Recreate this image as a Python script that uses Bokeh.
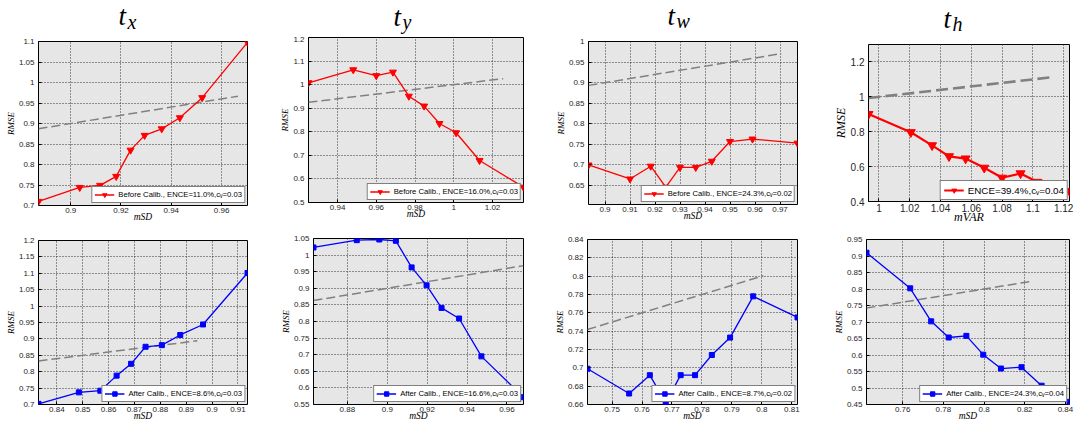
import math
from bokeh.plotting import figure
from bokeh.models import Range1d, CustomJSTickFormatter, Label
from bokeh.layouts import row, column
from bokeh.embed import file_html
from bokeh.resources import INLINE

# ------------------------------------------------------------------ data
TITLE_MAIN = "t"
TITLE_SUBS = ["x", "y", "w", "h"]
Y_LABEL = "RMSE"
X_LABELS = ["mSD", "mSD", "mSD", "mVAR", "mSD", "mSD", "mSD", "mSD"]

# t_x, before calibration
TXB_X = [0.8872, 0.9036, 0.9117, 0.9181, 0.9238, 0.9294, 0.9362, 0.9434, 0.9523, 0.9703]
TXB_Y = [0.710, 0.744, 0.749, 0.771, 0.835, 0.871, 0.887, 0.914, 0.963, 1.098]
TXB_IDEAL_X = [0.8872, 0.9665]
TXB_IDEAL_Y = [0.8872, 0.9665]
TXB_YLIM = [0.70, 1.10]
TXB_XTICKS = [0.90, 0.92, 0.94, 0.96]
TXB_YTICKS = [0.70, 0.75, 0.80, 0.85, 0.90, 0.95, 1.00, 1.05, 1.10]
TXB_LEGEND = "Before Calib., ENCE=11.0%,c\u1d65=0.03"

# t_y, before calibration
TYB_X = [0.9250, 0.9481, 0.9600, 0.9686, 0.9768, 0.9847, 0.9926, 1.0012, 1.0133, 1.0360]
TYB_Y = [1.008, 1.063, 1.038, 1.053, 0.951, 0.909, 0.835, 0.796, 0.678, 0.565]
TYB_IDEAL_X = [0.9250, 1.0255]
TYB_IDEAL_Y = [0.9250, 1.0255]
TYB_YLIM = [0.50, 1.20]
TYB_XTICKS = [0.94, 0.96, 0.98, 1.00, 1.02]
TYB_YTICKS = [0.5, 0.6, 0.7, 0.8, 0.9, 1.0, 1.1, 1.2]
TYB_LEGEND = "Before Calib., ENCE=16.0%,c\u1d65=0.03"

# t_w, before calibration
TWB_X = [0.8934, 0.9100, 0.9183, 0.9243, 0.9300, 0.9363, 0.9427, 0.9500, 0.9590, 0.9770]
TWB_Y = [0.700, 0.666, 0.697, 0.646, 0.694, 0.694, 0.709, 0.757, 0.763, 0.753]
TWB_IDEAL_X = [0.8934, 0.9705]
TWB_IDEAL_Y = [0.8934, 0.9705]
TWB_YLIM = [0.604, 1.00]
TWB_XTICKS = [0.90, 0.91, 0.92, 0.93, 0.94, 0.95, 0.96, 0.97]
TWB_YTICKS = [0.65, 0.70, 0.75, 0.80, 0.85, 0.90, 0.95, 1.00]
TWB_LEGEND = "Before Calib., ENCE=24.3%,c\u1d65=0.02"

# t_h, before calibration (mVAR)
THB_X = [0.9932, 1.0207, 1.0345, 1.0455, 1.0563, 1.0684, 1.0800, 1.0920, 1.1030, 1.1238]
THB_Y = [0.901, 0.797, 0.722, 0.659, 0.646, 0.593, 0.536, 0.561, 0.512, 0.460]
THB_IDEAL_X = [0.9932, 1.1110]
THB_IDEAL_Y = [0.9932, 1.1110]
THB_YLIM = [0.40, 1.30]
THB_XTICKS = [1.00, 1.02, 1.04, 1.06, 1.08, 1.10, 1.12]
THB_YTICKS = [0.4, 0.6, 0.8, 1.0, 1.2]
THB_LEGEND = "ENCE=39.4%,c\u1d65=0.04"

# t_x, after calibration
TXA_X = [0.8329, 0.8485, 0.8568, 0.8631, 0.8687, 0.8743, 0.8806, 0.8877, 0.8965, 0.9137]
TXA_Y = [0.702, 0.737, 0.742, 0.788, 0.824, 0.876, 0.881, 0.912, 0.944, 1.101]
TXA_IDEAL_X = [0.8329, 0.8943]
TXA_IDEAL_Y = [0.8329, 0.8943]
TXA_YLIM = [0.70, 1.20]
TXA_XTICKS = [0.84, 0.85, 0.86, 0.87, 0.88, 0.89, 0.90, 0.91]
TXA_YTICKS = [0.70, 0.75, 0.80, 0.85, 0.90, 0.95, 1.00, 1.05, 1.10, 1.15, 1.20]
TXA_LEGEND = "After Calib., ENCE=8.6%,c\u1d65=0.03"

# t_y, after calibration
TYA_X = [0.8630, 0.8847, 0.8960, 0.9043, 0.9122, 0.9197, 0.9272, 0.9360, 0.9472, 0.9683]
TYA_Y = [1.023, 1.045, 1.047, 1.043, 0.963, 0.909, 0.841, 0.809, 0.695, 0.572]
TYA_IDEAL_X = [0.8630, 0.9683]
TYA_IDEAL_Y = [0.8630, 0.9683]
TYA_YLIM = [0.55, 1.05]
TYA_XTICKS = [0.88, 0.90, 0.92, 0.94, 0.96]
TYA_YTICKS = [0.55, 0.60, 0.65, 0.70, 0.75, 0.80, 0.85, 0.90, 0.95, 1.00, 1.05]
TYA_LEGEND = "After Calib., ENCE=16.6%,c\u1d65=0.03"

# t_w, after calibration
TWA_X = [0.7418, 0.7557, 0.7626, 0.7679, 0.7729, 0.7777, 0.7833, 0.7894, 0.7971, 0.8119]
TWA_Y = [0.699, 0.672, 0.692, 0.662, 0.692, 0.692, 0.714, 0.733, 0.778, 0.755]
TWA_IDEAL_X = [0.7418, 0.8005]
TWA_IDEAL_Y = [0.7418, 0.8005]
TWA_YLIM = [0.66, 0.84]
TWA_XTICKS = [0.75, 0.76, 0.77, 0.78, 0.79, 0.80, 0.81]
TWA_YTICKS = [0.66, 0.68, 0.70, 0.72, 0.74, 0.76, 0.78, 0.80, 0.82, 0.84]
TWA_LEGEND = "After Calib., ENCE=8.7%,c\u1d65=0.02"

# t_h, after calibration
THA_X = [0.7422, 0.7637, 0.7740, 0.7826, 0.7913, 0.7996, 0.8083, 0.8184, 0.8283, 0.8420]
THA_Y = [0.910, 0.802, 0.702, 0.653, 0.658, 0.601, 0.559, 0.563, 0.507, 0.458]
THA_IDEAL_X = [0.7422, 0.8222]
THA_IDEAL_Y = [0.7422, 0.8222]
THA_YLIM = [0.45, 0.95]
THA_XTICKS = [0.76, 0.78, 0.80, 0.82, 0.84]
THA_YTICKS = [0.45, 0.50, 0.55, 0.60, 0.65, 0.70, 0.75, 0.80, 0.85, 0.90, 0.95]
THA_LEGEND = "After Calib., ENCE=24.3%,c\u1d65=0.04"

# ------------------------------------------------------------------ layout / style (page pixels)
COLS = [(0, 275), (275, 550), (550, 830), (830, 1073)]
TITLE_ROW = (0, 36)
ROWS = [(36, 226), (226, 423)]
FRAMES = [(38, 41, 247, 205), (308, 37, 523, 202), (588, 41, 797, 204), (863, 44, 1069, 203),
          (38, 240, 247, 405), (313, 238, 523, 405), (587, 239, 797, 405), (861, 239, 1069, 405)]
# (t left, t anchor, sub left, sub anchor) -- anchors compensated for the label box offset
TITLE_POS = [(118, 15, 127, 21), (393, 16, 402, 21), (667, 15, 676, 20), (943, 18, 952, 23)]

RED = "#ff0000"
BLUE = "#0000ff"
FMT = "return String(Math.round(tick*1000)/1000);"


def make_title(i):
    cl, cr = COLS[i]
    t0, t1 = TITLE_ROW
    W, H = cr - cl, t1 - t0
    p = figure(width=W, height=H, title=None, toolbar_location=None, tools="",
               output_backend="svg", x_axis_type=None, y_axis_type=None,
               x_range=Range1d(0, W), y_range=Range1d(0, H), min_border=0)
    p.min_border_left = p.min_border_right = p.min_border_top = p.min_border_bottom = 0
    p.frame_align = False
    p.outline_line_color = None
    p.background_fill_color = None
    p.border_fill_color = None
    p.grid.visible = False
    tx, ty, sx, sy = TITLE_POS[i]
    p.add_layout(Label(x=tx - cl, y=t1 - ty, x_units="screen", y_units="screen", text=TITLE_MAIN,
                       text_align="left", text_baseline="alphabetic",
                       text_font="Liberation Serif", text_font_style="italic",
                       text_font_size="27px", text_color="black"))
    p.add_layout(Label(x=sx - cl, y=t1 - sy, x_units="screen", y_units="screen", text=TITLE_SUBS[i],
                       text_align="left", text_baseline="alphabetic",
                       text_font="Liberation Serif", text_font_style="italic",
                       text_font_size="20px", text_color="black"))
    return p


def make_panel(i, x, y, ix, iy, ylim, xticks, yticks, legend_text, before):
    cl, cr = COLS[i % 4]
    rt, rb = ROWS[i // 4]
    L, T, R, B = FRAMES[i]
    big = (i == 3)
    p = figure(width=cr - cl, height=rb - rt, title=None, toolbar_location=None, tools="",
               output_backend="svg",
               x_range=Range1d(min(x), max(x)), y_range=Range1d(ylim[0], ylim[1]),
               min_border_left=L - cl, min_border_right=cr - R,
               min_border_top=T - rt, min_border_bottom=rb - B)
    p.frame_align = False
    p.background_fill_color = "#e6e6e6"
    p.border_fill_color = "white"
    p.outline_line_color = "black"
    p.outline_line_width = 1

    p.xaxis.ticker = xticks
    p.yaxis.ticker = yticks
    for ax in (p.xaxis[0], p.yaxis[0]):
        ax.formatter = CustomJSTickFormatter(code=FMT)
        ax.axis_line_color = None
        ax.major_tick_in = 3
        ax.major_tick_out = 0
        ax.major_tick_line_color = "black"
        ax.minor_tick_line_color = None
        ax.major_label_text_font = "Liberation Sans"
        ax.major_label_text_font_size = "10px" if big else "8px"
        ax.major_label_text_color = "#262626"
        ax.axis_label_text_font = "Liberation Serif"
        ax.axis_label_text_font_style = "italic"
        ax.axis_label_text_color = "black"
    p.xaxis.major_label_standoff = 2
    p.yaxis.major_label_standoff = 4
    p.xaxis.axis_label = X_LABELS[i]
    p.yaxis.axis_label = Y_LABEL
    p.xaxis.axis_label_standoff = -5 if big else -4
    p.yaxis.axis_label_standoff = 0
    p.xaxis.axis_label_text_font_size = "12px" if big else "9.5px"
    p.yaxis.axis_label_text_font_size = "12px" if big else "9px"

    p.grid.grid_line_color = "#333333"
    p.grid.grid_line_dash = "1 2"
    p.grid.grid_line_width = 1

    col = RED if before else BLUE
    marker = "inverted_triangle" if before else "square"
    msize = (9 if big else 7) if before else 5
    lw = 2.2 if big else 1.3

    p.line(ix, iy, line_color="#808080", line_width=2.6 if big else 1.5,
           line_dash="12 5" if big else "9 4")
    p.line(x, y, line_color=col, line_width=lw, legend_label=legend_text)
    p.scatter(x, y, marker=marker, size=msize, fill_color=col, line_color=col,
              legend_label=legend_text)

    lg = p.legend[0]
    lg.location = "bottom_right"
    lg.margin = 1 if big else 2
    lg.padding = 3 if big else 2
    lg.spacing = 0
    lg.glyph_width = 20
    lg.glyph_height = 12 if big else 11
    lg.label_height = 12 if big else 9
    lg.label_standoff = 4
    lg.label_text_font = "Liberation Sans"
    lg.label_text_font_size = "9.8px" if big else "7.7px"
    lg.label_text_color = "black"
    lg.border_line_color = "black"
    lg.border_line_width = 1
    lg.background_fill_color = "white"
    lg.background_fill_alpha = 1
    return p


titles = [make_title(i) for i in range(4)]
figs = [
    make_panel(0, TXB_X, TXB_Y, TXB_IDEAL_X, TXB_IDEAL_Y, TXB_YLIM, TXB_XTICKS, TXB_YTICKS, TXB_LEGEND, True),
    make_panel(1, TYB_X, TYB_Y, TYB_IDEAL_X, TYB_IDEAL_Y, TYB_YLIM, TYB_XTICKS, TYB_YTICKS, TYB_LEGEND, True),
    make_panel(2, TWB_X, TWB_Y, TWB_IDEAL_X, TWB_IDEAL_Y, TWB_YLIM, TWB_XTICKS, TWB_YTICKS, TWB_LEGEND, True),
    make_panel(3, THB_X, THB_Y, THB_IDEAL_X, THB_IDEAL_Y, THB_YLIM, THB_XTICKS, THB_YTICKS, THB_LEGEND, True),
    make_panel(4, TXA_X, TXA_Y, TXA_IDEAL_X, TXA_IDEAL_Y, TXA_YLIM, TXA_XTICKS, TXA_YTICKS, TXA_LEGEND, False),
    make_panel(5, TYA_X, TYA_Y, TYA_IDEAL_X, TYA_IDEAL_Y, TYA_YLIM, TYA_XTICKS, TYA_YTICKS, TYA_LEGEND, False),
    make_panel(6, TWA_X, TWA_Y, TWA_IDEAL_X, TWA_IDEAL_Y, TWA_YLIM, TWA_XTICKS, TWA_YTICKS, TWA_LEGEND, False),
    make_panel(7, THA_X, THA_Y, THA_IDEAL_X, THA_IDEAL_Y, THA_YLIM, THA_XTICKS, THA_YTICKS, THA_LEGEND, False),
]

p = column(row(*titles, spacing=0), row(*figs[:4], spacing=0), row(*figs[4:], spacing=0), spacing=0)
open("out.html", "w").write(file_html(p, INLINE))
